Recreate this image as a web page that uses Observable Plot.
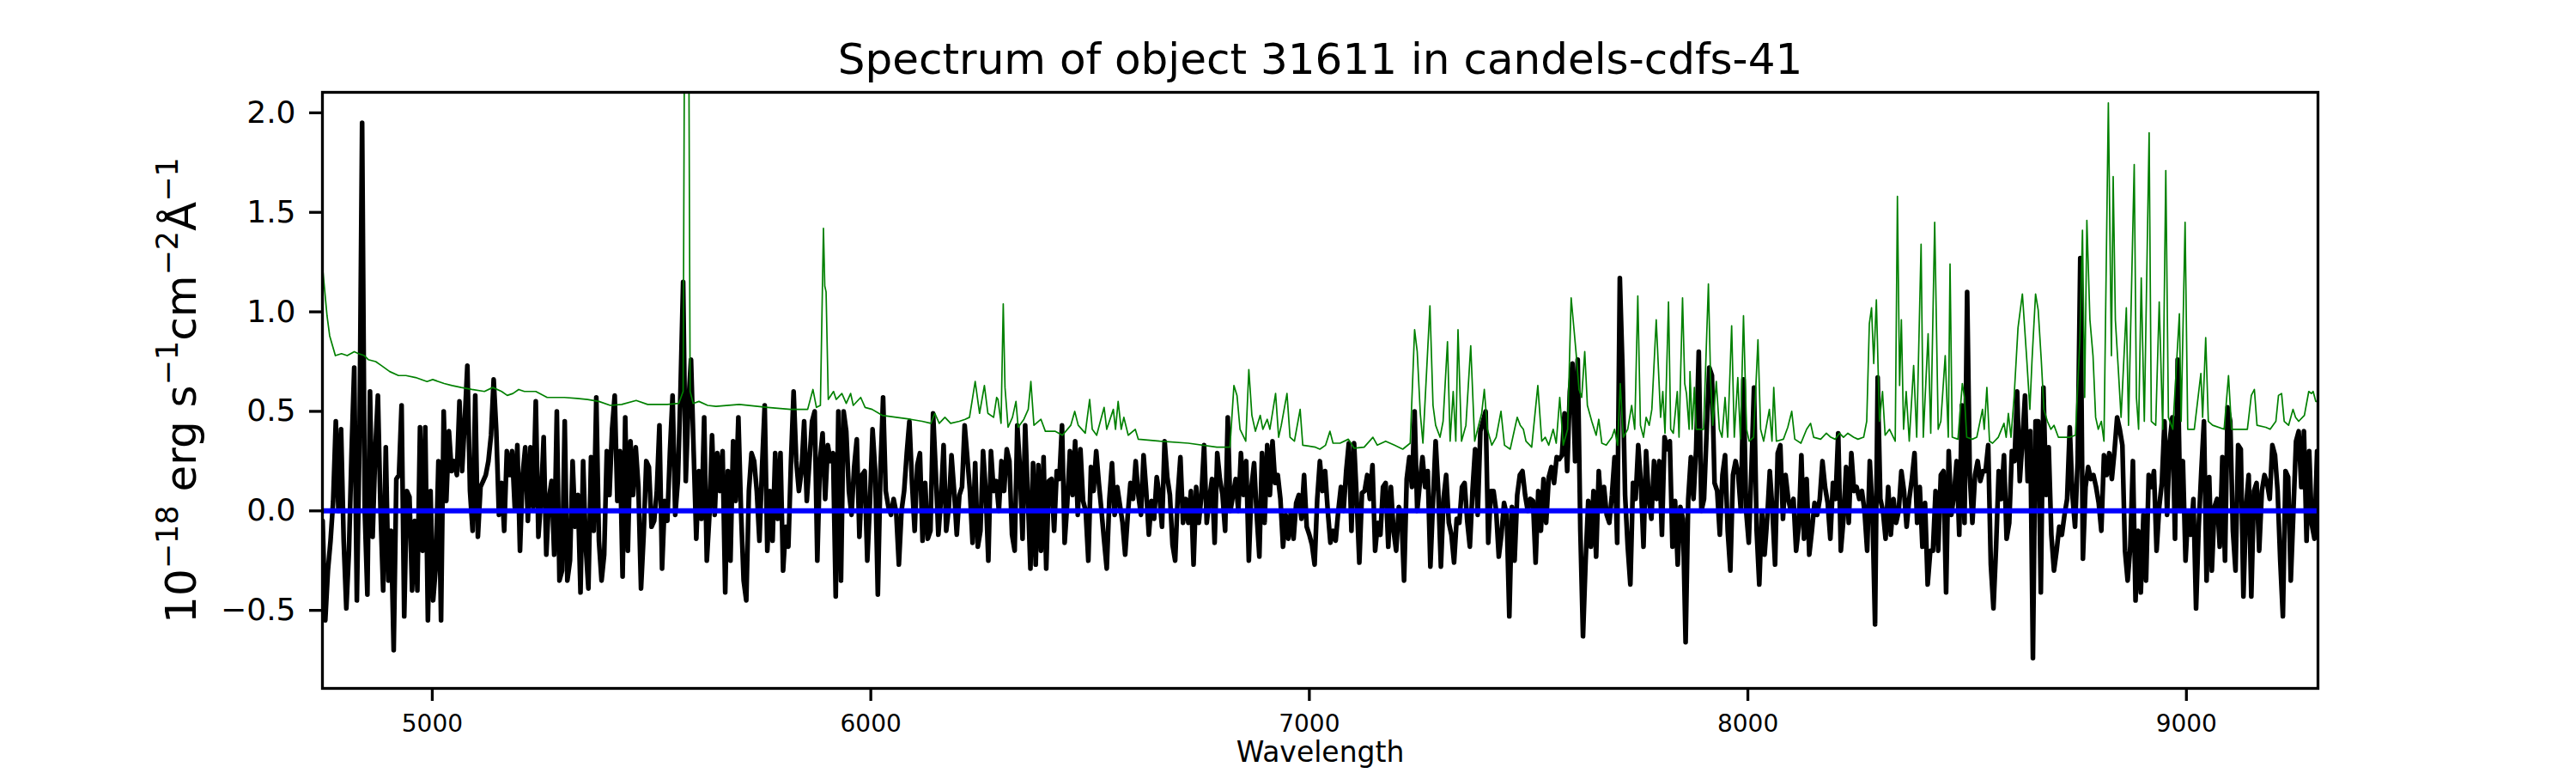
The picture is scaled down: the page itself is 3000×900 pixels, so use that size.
<!DOCTYPE html>
<html><head><meta charset="utf-8">
<script src="https://cdn.jsdelivr.net/npm/d3@7"></script>
<script src="https://cdn.jsdelivr.net/npm/@observablehq/plot@0.6"></script>
<style>body{margin:0;background:#fff;}</style>
</head><body><div id="chart"></div>
<script>
const title = "Spectrum of object 31611 in candels-cdfs-41";
const xLabel = "Wavelength";
// y label pieces: [text, isSuperscript]
const yLabelParts = [["10", 0], ["−18", 1], [" erg s", 0], ["−1", 1], ["cm", 0], ["−2", 1], ["Å", 0], ["−1", 1]];
const yLabel = yLabelParts.map(p => p[0]).join("");
const xTicks = [5000, 6000, 7000, 8000, 9000];
const yTicks = [-0.5, 0, 0.5, 1.0, 1.5, 2.0];
const zeroLevel = [0];

// flux sampled every 6 Å starting at 4750 Å
const fluxStart = 4750, fluxStep = 6;
const flux = [
-0.05,-0.55,-0.3,-0.15,0.05,0.45,0.0,0.41,-0.15,-0.49,
-0.2,0.3,0.72,-0.45,0.35,1.95,0.0,-0.42,0.6,-0.13,
0.3,0.58,0.0,-0.4,0.32,-0.35,-0.1,-0.7,0.16,0.18,
0.53,-0.53,0.1,0.07,-0.4,-0.05,-0.4,0.42,-0.2,0.42,
-0.55,0.1,-0.45,-0.28,0.25,-0.55,0.5,0.05,0.4,0.2,
0.25,0.18,0.55,0.2,0.45,0.73,0.1,-0.1,0.58,-0.13,
0.12,0.15,0.18,0.25,0.38,0.66,0.4,-0.02,0.14,-0.1,
0.3,0.18,0.3,0.02,0.33,-0.2,0.18,0.32,-0.05,0.32,
0.02,0.55,-0.13,0.06,0.37,-0.22,0.06,0.15,-0.22,0.5,
-0.35,-0.3,0.45,-0.35,-0.25,0.25,-0.08,0.08,-0.41,0.25,
-0.18,-0.39,0.27,-0.1,0.57,-0.15,-0.35,-0.22,0.3,0.08,
0.41,0.58,0.05,0.3,-0.33,0.47,-0.2,0.35,0.08,0.32,
0.12,-0.39,-0.12,0.25,0.22,-0.08,-0.05,0.1,0.43,
-0.29,0.05,-0.05,0.3,0.58,-0.02,0.15,0.6,1.15,0.15,0.53,
0.76,0.3,-0.14,0.2,-0.04,0.47,-0.25,-0.02,0.38,-0.02,
0.29,0.1,0.3,-0.41,0.2,-0.25,0.35,0.05,0.47,0.0,
-0.35,-0.45,0.1,0.29,0.25,0.1,-0.15,0.22,0.53,-0.2,
0.1,-0.15,0.29,-0.04,0.29,-0.3,-0.08,-0.18,0.25,0.6,
0.25,0.1,0.2,0.45,0.05,0.25,0.45,0.5,-0.25,0.25,
0.39,0.06,0.33,0.25,0.29,-0.43,0.5,-0.35,0.5,0.4,
0.1,-0.02,0.22,0.36,-0.13,0.18,0.2,-0.25,0.04,0.41,
0.2,-0.42,0.2,0.57,0.1,0.02,-0.02,0.06,-0.01,-0.27,
0.0,0.1,0.29,0.45,0.14,-0.1,0.23,0.29,-0.15,0.14,
-0.14,-0.1,0.49,0.2,-0.12,0.06,0.33,-0.1,0.02,0.28,
0.1,-0.12,0.08,0.12,0.43,0.27,0.1,-0.16,0.24,-0.18,
-0.1,0.3,0.1,-0.25,0.3,0.1,0.15,
0.0,0.25,0.1,0.31,0.25,-0.12,-0.2,0.43,0.22,-0.14,
0.43,0.08,-0.29,0.24,-0.27,0.23,-0.2,0.27,-0.29,0.15,
0.16,-0.1,0.2,0.16,0.43,-0.16,0.04,0.3,0.08,0.35,
-0.02,0.31,0.05,0.0,-0.25,0.22,0.1,0.3,0.14,0.0,
-0.15,-0.29,0.06,0.24,-0.02,0.12,0.03,-0.06,-0.22,-0.02,
0.14,0.06,0.25,0.08,-0.02,0.28,0.1,-0.12,0.05,-0.04,
0.17,0.08,-0.08,0.35,0.17,0.08,-0.17,-0.25,0.08,0.27,
-0.06,0.06,-0.06,0.1,-0.27,0.12,-0.06,0.08,0.33,-0.06,
0.06,0.16,-0.16,0.29,0.16,0.08,-0.1,0.47,0.0,0.08,
0.16,0.0,0.29,0.08,0.25,-0.25,0.12,0.24,-0.02,-0.23,
0.29,-0.06,0.33,0.08,0.35,0.14,0.18,0.06,-0.18,-0.02,
-0.14,0.0,-0.14,0.04,0.08,-0.04,0.18,-0.08,-0.12,-0.17,
-0.27,0.06,0.25,0.1,0.2,0.0,-0.16,
-0.1,-0.15,0.0,0.12,0.0,0.2,0.34,-0.1,0.34,0.06,
-0.26,0.09,0.1,0.18,0.06,0.23,-0.2,-0.06,-0.12,0.12,
0.14,-0.18,0.12,-0.1,-0.2,0.02,-0.02,-0.35,0.16,0.27,
0.12,0.5,0.0,0.14,0.27,0.12,0.2,-0.28,0.05,0.35,
0.1,-0.28,0.06,0.18,-0.06,-0.12,-0.26,-0.04,-0.06,0.12,
0.14,-0.05,-0.18,0.1,0.31,-0.02,0.4,0.45,0.5,-0.16,
0.1,0.1,0.0,-0.23,-0.12,0.04,-0.02,-0.53,0.02,-0.25,
0.08,0.18,0.2,0.08,0.0,0.06,0.05,-0.26,0.1,-0.1,
0.16,-0.06,0.17,0.22,0.14,0.27,0.26,0.28,0.49,0.2,
0.6,0.74,0.25,0.76,-0.1,-0.63,-0.25,0.05,-0.18,0.1,
-0.23,0.2,0.0,0.12,-0.02,-0.06,0.08,0.27,-0.16,1.17,
0.72,0.08,-0.18,-0.37,0.14,0.06,0.33,0.14,-0.18,0.3,
0.06,-0.04,0.25,0.06,0.25,-0.12,0.37,
0.31,0.35,-0.18,0.05,-0.27,0.02,-0.04,-0.66,0.06,0.27,
0.06,0.31,0.8,0.0,0.06,0.4,0.72,0.68,0.14,0.1,
-0.12,0.18,0.28,-0.1,-0.3,0.18,0.25,0.18,0.0,0.66,
0.0,-0.16,0.2,0.62,-0.1,-0.37,0.0,-0.22,-0.04,0.2,
0.0,-0.27,0.29,0.33,-0.04,0.18,0.06,0.0,0.06,-0.2,
-0.08,0.28,-0.14,0.16,-0.22,-0.1,0.04,-0.02,0.06,0.25,
0.12,0.04,-0.14,0.14,0.06,0.39,-0.2,-0.04,0.22,-0.06,
0.29,0.1,0.12,0.06,0.1,0.0,-0.2,0.25,0.0,-0.57,
0.67,0.06,0.0,-0.14,0.12,-0.12,0.06,-0.06,0.0,0.2,
0.1,-0.08,0.06,0.16,0.29,-0.06,0.12,-0.18,0.04,-0.37,
-0.2,-0.2,0.1,-0.2,0.18,0.2,-0.41,0.3,-0.02,0.08,
0.25,-0.12,0.53,-0.06,1.1,0.18,-0.06,0.18,0.25,0.15,
0.2,0.2,0.33,-0.27,-0.49,-0.18,0.2,
0.06,0.28,-0.14,-0.06,0.3,0.25,0.6,0.15,0.35,0.58,
0.15,0.4,-0.74,0.45,0.45,-0.41,0.62,0.08,0.32,-0.12,
-0.3,-0.2,-0.08,-0.12,-0.02,0.06,0.42,0.08,-0.08,0.25,
1.27,-0.24,0.12,0.22,0.16,0.18,0.12,0.04,-0.1,0.28,
0.18,0.29,0.16,0.3,0.47,0.41,0.33,-0.2,-0.35,-0.18,
0.25,-0.45,-0.1,-0.41,-0.02,-0.35,0.18,0.12,0.2,-0.2,
0.02,0.14,0.45,-0.02,0.35,0.47,-0.14,0.76,0.0,0.25,
-0.25,0.0,-0.12,0.06,-0.49,-0.08,0.2,0.45,-0.35,0.17,
-0.3,0.02,0.06,-0.18,0.27,-0.25,0.52,0.45,-0.1,-0.3,
0.33,0.31,-0.43,0.02,0.18,-0.43,0.1,0.14,-0.2,0.1,
0.18,0.14,0.06,0.33,0.28,0.1,-0.25,-0.53,0.2,0.17,
-0.35,0.0,0.35,0.4,0.12,0.4,-0.15,0.3,-0.07,-0.14,
0.3
];

// error spectrum read as (wavelength, value) pairs
const errWave = [
4750,4760,4766,4779,4793,4806,4822,4832,4845,4854,4871,4884,4903,4923,4940,4962,4988,5001,5027,5045,
5066,5090,5119,5138,5158,5171,5184,5197,5210,5236,5262,5301,5330,5354,5380,5406,5432,5465,5491,5536,
5562,5572,5577,5583,5588,5595,5608,5628,5647,5700,5765,5817,5856,5868,5876,5885,5892,5895,5898,5903,
5915,5921,5934,5944,5954,5960,5977,5987,6003,6026,6058,6091,6117,6137,6146,6156,6169,6182,6202,6215,
6225,6238,6248,6259,6267,6280,6287,6290,6297,6302,6306,6313,6323,6331,6336,6349,6359,6365,6372,6388,
6398,6420,6437,6456,6465,6473,6489,6499,6505,6515,6532,6538,6553,6558,6564,6571,6577,6587,6603,6610,
6659,6724,6789,6819,6828,6835,6842,6855,6862,6869,6877,6888,6894,6904,6910,6923,6930,6936,6949,6956,
6966,6979,6985,7014,7024,7037,7047,7054,7070,7089,7102,7125,7145,7155,7174,7194,7213,7230,7240,7246,
7253,7259,7275,7282,7288,7298,7305,7315,7321,7328,7334,7339,7347,7357,7368,7377,7386,7393,7399,7406,
7416,7426,7437,7445,7458,7468,7474,7481,7488,7494,7507,7521,7530,7538,7546,7556,7563,7571,7579,7589,
7597,7604,7608,7615,7621,7628,7634,7644,7654,7660,7667,7677,7690,7696,7703,7709,7716,7726,7735,7742,
7749,7755,7762,7768,7775,7781,7791,7801,7806,7811,7819,7824,7830,7839,7843,7851,7856,7860,7866,7868,
7873,7878,7882,7899,7910,7915,7920,7928,7935,7941,7948,7954,7963,7969,7977,7983,7990,7997,8003,8013,
8023,8029,8036,8049,8055,8059,8065,8081,8091,8100,8107,8121,8134,8143,8150,8166,8179,8189,8199,8209,
8218,8228,8241,8251,8264,8271,8277,8282,8287,8293,8300,8307,8313,8323,8336,8341,8346,8350,8355,8361,
8368,8378,8385,8395,8400,8411,8417,8426,8434,8440,8450,8457,8461,8466,8479,8489,8494,8499,8512,8522,
8535,8539,8545,8551,8558,8571,8584,8589,8594,8600,8607,8616,8626,8636,8643,8648,8656,8662,8669,8675,
8683,8691,8698,8708,8734,8747,8757,8763,8768,8773,8780,8787,8793,8799,8806,8812,8822,8829,8833,8838,
8845,8851,8863,8868,8881,8886,8891,8897,8904,8915,8920,8930,8938,8946,8953,8959,8969,8984,8988,8997,
9003,9018,9033,9037,9044,9050,9060,9086,9096,9103,9126,9139,9148,9155,9161,9181,9191,9204,9210,9217,
9223,9233,9243,9249,9256,9269,9279,9285,9289,9295,9300
];
const errFlux = [
1.22,0.98,0.88,0.78,0.79,0.78,0.80,0.79,0.78,0.76,0.75,0.73,0.70,0.68,0.68,0.67,0.65,0.66,0.64,0.63,
0.62,0.61,0.60,0.62,0.60,0.58,0.59,0.61,0.60,0.60,0.57,0.57,0.565,0.56,0.55,0.53,0.535,0.555,0.535,0.535,
0.54,0.6,3.5,3.5,0.6,0.54,0.55,0.53,0.525,0.535,0.52,0.51,0.51,0.61,0.52,0.53,1.42,1.13,1.1,0.56,
0.6,0.56,0.59,0.54,0.59,0.53,0.57,0.52,0.51,0.48,0.47,0.46,0.45,0.44,0.49,0.44,0.47,0.44,0.45,0.46,
0.47,0.65,0.49,0.63,0.49,0.47,0.57,0.56,0.44,1.04,0.62,0.42,0.47,0.55,0.42,0.46,0.51,0.65,0.43,0.46,
0.40,0.40,0.38,0.43,0.50,0.43,0.39,0.56,0.41,0.38,0.52,0.41,0.51,0.41,0.55,0.41,0.47,0.38,0.41,0.36,
0.35,0.34,0.32,0.32,0.63,0.58,0.41,0.35,0.71,0.48,0.40,0.48,0.41,0.46,0.41,0.59,0.37,0.43,0.59,0.37,
0.35,0.51,0.33,0.32,0.31,0.33,0.40,0.34,0.34,0.36,0.315,0.32,0.37,0.33,0.35,0.33,0.31,0.34,0.91,0.80,
0.49,0.34,1.03,0.53,0.43,0.37,0.45,0.85,0.35,0.6,0.35,0.91,0.35,0.43,0.83,0.35,0.43,0.49,0.61,0.41,
0.33,0.37,0.50,0.33,0.31,0.41,0.47,0.43,0.41,0.35,0.32,0.63,0.35,0.37,0.33,0.41,0.34,0.57,0.33,0.41,
1.07,0.90,0.80,0.61,0.57,0.80,0.53,0.45,0.38,0.46,0.34,0.33,0.37,0.41,0.33,0.64,0.37,0.41,0.53,0.41,
1.08,0.43,0.37,0.47,0.43,0.51,0.96,0.47,0.6,0.39,1.05,0.41,0.39,0.60,0.37,1.07,0.64,0.59,0.41,0.70,
0.41,0.62,0.41,0.41,1.14,0.66,0.43,0.65,0.41,0.37,0.57,0.37,0.93,0.37,0.67,0.36,0.98,0.41,0.35,0.37,
0.86,0.41,0.35,0.51,0.35,0.62,0.35,0.36,0.42,0.50,0.36,0.34,0.41,0.44,0.37,0.36,0.39,0.37,0.36,0.39,
0.37,0.39,0.37,0.36,0.37,0.45,0.94,1.02,0.74,1.06,0.45,0.60,0.38,0.41,0.35,1.58,0.63,0.96,0.41,0.60,
0.35,0.73,0.37,1.34,0.37,0.89,0.39,1.45,0.41,0.45,0.78,0.37,1.24,0.37,0.36,0.64,0.57,0.37,0.36,0.37,
0.51,0.41,0.62,0.35,0.34,0.37,0.44,0.37,0.49,0.37,0.57,0.92,1.09,0.76,0.51,0.76,1.09,1.01,0.76,0.51,
0.45,0.41,0.43,0.37,0.37,0.38,0.86,1.41,0.57,1.46,0.96,0.78,0.47,0.41,0.45,0.35,2.05,0.78,1.68,0.96,
0.70,0.47,1.02,0.43,1.74,0.57,0.41,1.17,0.45,1.90,0.45,0.43,1.05,0.41,1.71,0.47,0.41,0.99,0.45,1.45,
0.41,0.41,0.69,0.47,0.87,0.45,0.43,0.41,0.68,0.41,0.41,0.41,0.58,0.61,0.43,0.42,0.41,0.45,0.58,0.59,
0.45,0.43,0.51,0.47,0.45,0.48,0.6,0.59,0.6,0.55,0.55
];

const fluxData = flux.map((f, i) => ({w: fluxStart + i * fluxStep, f}));
const errData = errWave.map((w, i) => ({w, f: errFlux[i]}));

const chart = Plot.plot({
  width: 3000, height: 900,
  marginLeft: 375, marginRight: 301, marginTop: 107, marginBottom: 99,
  style: {fontFamily: "'DejaVu Sans', sans-serif", background: "#fff", color: "#000"},
  x: {domain: [4749.5, 9300]},
  y: {domain: [-0.892, 2.103]},
  marks: [
    Plot.line(fluxData, {x: "w", y: "f", stroke: "#000", strokeWidth: 5.5, clip: true}),
    Plot.line(errData, {x: "w", y: "f", stroke: "#008000", strokeWidth: 1.7, clip: true}),
    Plot.ruleY(zeroLevel, {stroke: "#0000ff", strokeWidth: 6}),
    Plot.frame({stroke: "#000", strokeWidth: 3.3}),
    Plot.axisX(xTicks, {tickSize: 15, tickPadding: 16, fontSize: 28, strokeWidth: 3.3, label: null, tickFormat: d => String(d)}),
    Plot.axisY(yTicks, {tickSize: 15, tickPadding: 16, fontSize: 36, strokeWidth: 3.3, label: null, tickFormat: d3.format(".1f")}),
    Plot.text([title], {text: d => d, frameAnchor: "top", dy: -38, fontSize: 50, lineAnchor: "middle"}),
    Plot.text([xLabel], {text: d => d, frameAnchor: "bottom", dy: 75, fontSize: 33, lineAnchor: "middle"}),
    Plot.text([yLabel], {text: d => d, frameAnchor: "left", dx: -164, rotate: -90, fontSize: 50, lineAnchor: "middle", textAnchor: "middle"})
  ]
});

// render the y label with real superscripts
d3.select(chart).selectAll("text").filter(function() { return this.textContent === yLabel; }).each(function() {
  const t = d3.select(this);
  t.text(null);
  yLabelParts.forEach(([s, sup]) => {
    const ts = t.append("tspan").text(s);
    if (sup) ts.attr("font-size", 35).attr("baseline-shift", 21);
  });
});
document.getElementById("chart").appendChild(chart);
</script>
</body></html>
